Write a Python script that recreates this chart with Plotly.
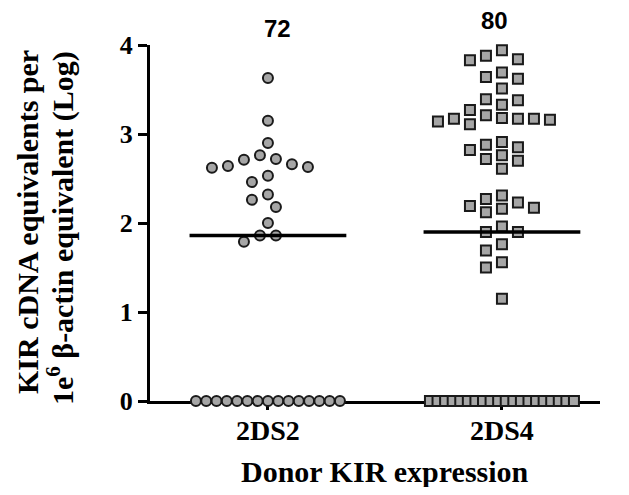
import plotly.graph_objects as go
import numpy as np

# ---------------- data ----------------
categories = ["2DS2", "2DS4"]
top_labels = ["72", "80"]
medians = [1.86, 1.90]

kir_2ds2 = [3.63, 3.15, 2.90, 2.76, 2.72, 2.71, 2.66, 2.64, 2.63, 2.62,
            2.53, 2.46, 2.32, 2.26, 2.18, 2.00, 1.86, 1.86, 1.79] + [0.0] * 15

kir_2ds4 = [3.94, 3.88, 3.84, 3.83, 3.69, 3.64, 3.62, 3.51, 3.39, 3.38,
            3.33, 3.27, 3.21, 3.18, 3.17, 3.17, 3.17, 3.16, 3.14, 3.11,
            2.91, 2.88, 2.85, 2.82, 2.76, 2.72, 2.70, 2.61,
            2.31, 2.27, 2.23, 2.19, 2.17, 2.16, 2.12,
            1.96, 1.90, 1.90, 1.76, 1.69, 1.56, 1.50, 1.15] + [0.0] * 20

y_ticks = [0, 1, 2, 3, 4]

# ---------------- layout geometry ----------------
# the page body has an 8px margin, so the figure is shifted by 8px
OFF = 8
W, H = 629 - 2 * OFF, 495 - 2 * OFF
PL, PR, PT, PB = 150, 600, 45, 401          # plot box in window pixels
ML, MT = PL - OFF, PT - OFF
plot_w = PR - PL
plot_h = PB - PT
MR = W - ML - plot_w
MB = H - MT - plot_h
x_range = [-0.504, 1.419]
y_range = [0, 4]
px_x = plot_w / (x_range[1] - x_range[0])
px_y = plot_h / (y_range[1] - y_range[0])

MARK = 10
LINEW = 2
D = 13.0          # collision distance (px)
STEP = 8.0        # lateral grid step (px)
ZERO_HALF = 72.0  # half width of the zero row (px)


def swarm(values, square):
    vals = np.asarray(values, dtype=float)
    offs = np.zeros(len(vals))
    zeros = [i for i, v in enumerate(vals) if v == 0]
    n = len(zeros)
    for k, i in enumerate(zeros):
        offs[i] = (-ZERO_HALF + 2 * ZERO_HALF * k / (n - 1)) if n > 1 else 0
    others = sorted([i for i, v in enumerate(vals) if v != 0], key=lambda i: -vals[i])
    placed = []
    cands = [0]
    for j in range(1, 30):
        cands += [-j, j]
    for i in others:
        y = vals[i] * px_y
        for c in cands:
            x = c * STEP
            ok = True
            for (qx, qy) in placed:
                dx, dy = abs(x - qx), abs(y - qy)
                if square:
                    if dx < D and dy < D:
                        ok = False
                        break
                else:
                    if np.hypot(dx, dy) < D:
                        ok = False
                        break
            if ok:
                offs[i] = x
                placed.append((x, y))
                break
    return offs / px_x


def paper_x(px):
    return (px - PL) / plot_w


def paper_y(py):
    return 1 - (py - PT) / plot_h


fig = go.Figure()

series = [kir_2ds2, kir_2ds4]
symbols = ["circle", "square"]
for ci, (vals, sym) in enumerate(zip(series, symbols)):
    offs = swarm(vals, sym == "square")
    fig.add_trace(go.Scatter(
        x=ci + offs, y=vals, mode="markers",
        marker=dict(symbol=sym, size=MARK, color="#a6a6a6",
                    line=dict(color="#1a1a1a", width=LINEW)),
        cliponaxis=False, showlegend=False, hoverinfo="y"))

half = 0.335
for ci, m in enumerate(medians):
    fig.add_trace(go.Scatter(
        x=[ci - half, ci + half], y=[m, m], mode="lines",
        line=dict(color="black", width=3.5),
        cliponaxis=False, showlegend=False, hoverinfo="skip"))

serif = "Liberation Serif, Times New Roman, serif"
annotations = []
label_px = [(277, 28), (494, 20)]
for ci, t in enumerate(top_labels):
    annotations.append(dict(
        x=paper_x(label_px[ci][0]), y=paper_y(label_px[ci][1]), xref="paper", yref="paper",
        xanchor="center", yanchor="middle",
        text=f"<b>{t}</b>", showarrow=False,
        font=dict(family="Liberation Sans, Arial", size=24, color="black")))

annotations.append(dict(
    x=paper_x(28), y=paper_y(222), xref="paper", yref="paper",
    xanchor="center", yanchor="middle",
    text="<b>KIR cDNA equivalents per</b>", textangle=-90, showarrow=False,
    font=dict(family=serif, size=30, color="black")))
annotations.append(dict(
    x=paper_x(60), y=paper_y(228), xref="paper", yref="paper",
    xanchor="center", yanchor="middle",
    text="<b>1e<sup>6</sup> β-actin equivalent (Log)</b>", textangle=-90, showarrow=False,
    font=dict(family=serif, size=30, color="black")))
annotations.append(dict(
    x=paper_x(385), y=paper_y(471), xref="paper", yref="paper",
    xanchor="center", yanchor="middle",
    text="<b>Donor KIR expression</b>", showarrow=False,
    font=dict(family=serif, size=30, color="black")))

fig.update_layout(
    width=W, height=H,
    margin=dict(l=ML, r=MR, t=MT, b=MB, pad=0),
    paper_bgcolor="white", plot_bgcolor="white",
    annotations=annotations,
    xaxis=dict(
        range=x_range, tickmode="array", tickvals=[0, 1], ticktext=[f"<b>{c}</b>" for c in categories],
        showline=True, linecolor="black", linewidth=3, showgrid=False, zeroline=False,
        ticks="outside", ticklen=6, tickwidth=3, tickcolor="black",
        ticklabelstandoff=-4,
        tickfont=dict(family=serif, size=28, color="black"),
        automargin=False, layer="below traces", fixedrange=True),
    yaxis=dict(
        range=y_range, tickmode="array", tickvals=y_ticks, ticktext=[f"<b>{t}</b>" for t in y_ticks],
        showline=True, linecolor="black", linewidth=3, showgrid=False, zeroline=False,
        ticks="outside", ticklen=9, tickwidth=3, tickcolor="black",
        tickfont=dict(family=serif, size=26, color="black"),
        automargin=False, layer="below traces", fixedrange=True),
)

fig.write_html("out.html")
